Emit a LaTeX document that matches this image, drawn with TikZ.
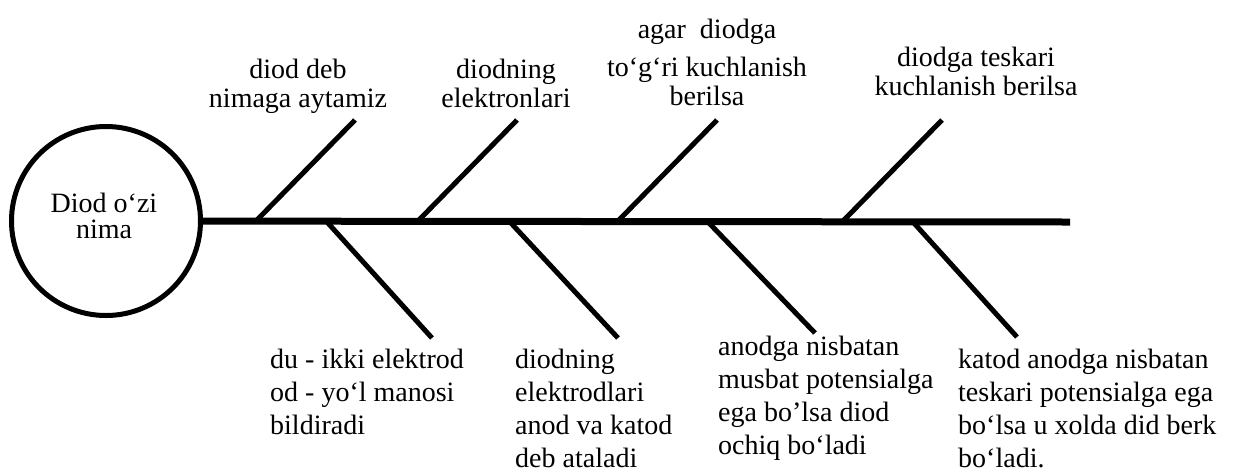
\documentclass[tikz,border=0pt]{standalone}
\usepackage{fontspec}
\setmainfont{Liberation Serif}
\usetikzlibrary{positioning}

\begin{document}
\begin{tikzpicture}[x=1pt,y=-1pt,
            bone/.style={line width=5pt},
            spine/.style={line width=7pt},
            txt/.style={font=\fontsize{28}{33}\selectfont, inner sep=0pt},
            top/.style={txt, font=\fontsize{28}{29}\selectfont, align=center, anchor=base},
            low/.style={txt, align=left, anchor=north west},
            hub/.style={shape=circle, draw, line width=5pt, minimum size=189pt, inner sep=0pt}]
        \useasboundingbox (0,0) rectangle (1241,475);

        \node[hub] (diod) at (106,221) {};
        \node[txt, font=\fontsize{28}{26}\selectfont, align=center, anchor=base] (name) at (104,238) {Diod o`zi\\nima};
        \coordinate (tail) at (1070,222);
        \draw[spine] (diod) -- (tail);

        % upper bones
        \coordinate (u1) at (255,222); \coordinate (t1) at (355,120);
        \coordinate (u2) at (417,222); \coordinate (t2) at (517,120);
        \coordinate (u3) at (617,222); \coordinate (t3) at (717,120);
        \coordinate (u4) at (842,222); \coordinate (t4) at (942,120);
        \draw[bone] (u1) -- (t1);
        \draw[bone] (u2) -- (t2);
        \draw[bone] (u3) -- (t3);
        \draw[bone] (u4) -- (t4);

        % lower bones
        \coordinate (l1) at (327,222); \coordinate (e1) at (432,338);
        \coordinate (l2) at (510,222); \coordinate (e2) at (618,338);
        \coordinate (l3) at (708,222); \coordinate (e3) at (815,333);
        \coordinate (l4) at (913,222); \coordinate (e4) at (1017,337);
        \draw[bone] (l1) -- (e1);
        \draw[bone] (l2) -- (e2);
        \draw[bone] (l3) -- (e3);
        \draw[bone] (l4) -- (e4);

        \node[top] (q1) at (298,107) {diod deb\\nimaga aytamiz};
        \node[top] (q2) at (506,107) {diodning\\elektronlari};
        \node[top] (q3) at (707,105) {agar~ diodga\\[9pt]to`g`ri kuchlanish\\berilsa};
        \node[top] (q4) at (976,95) {diodga teskari\\kuchlanish berilsa};

        \node[low] (a1) at (270,349) {du - ikki elektrod\\od - yo`l manosi\\bildiradi};
        \node[low] (a2) at (515,349) {diodning\\elektrodlari\\anod va katod\\deb ataladi};
        \node[low] (a3) at (718,336) {anodga nisbatan\\musbat potensialga\\ega bo'lsa diod\\ochiq bo`ladi};
        \node[low] (a4) at (958,349) {katod anodga nisbatan\\teskari potensialga ega\\bo`lsa u xolda did berk\\bo`ladi.};
\end{tikzpicture}
\end{document}
